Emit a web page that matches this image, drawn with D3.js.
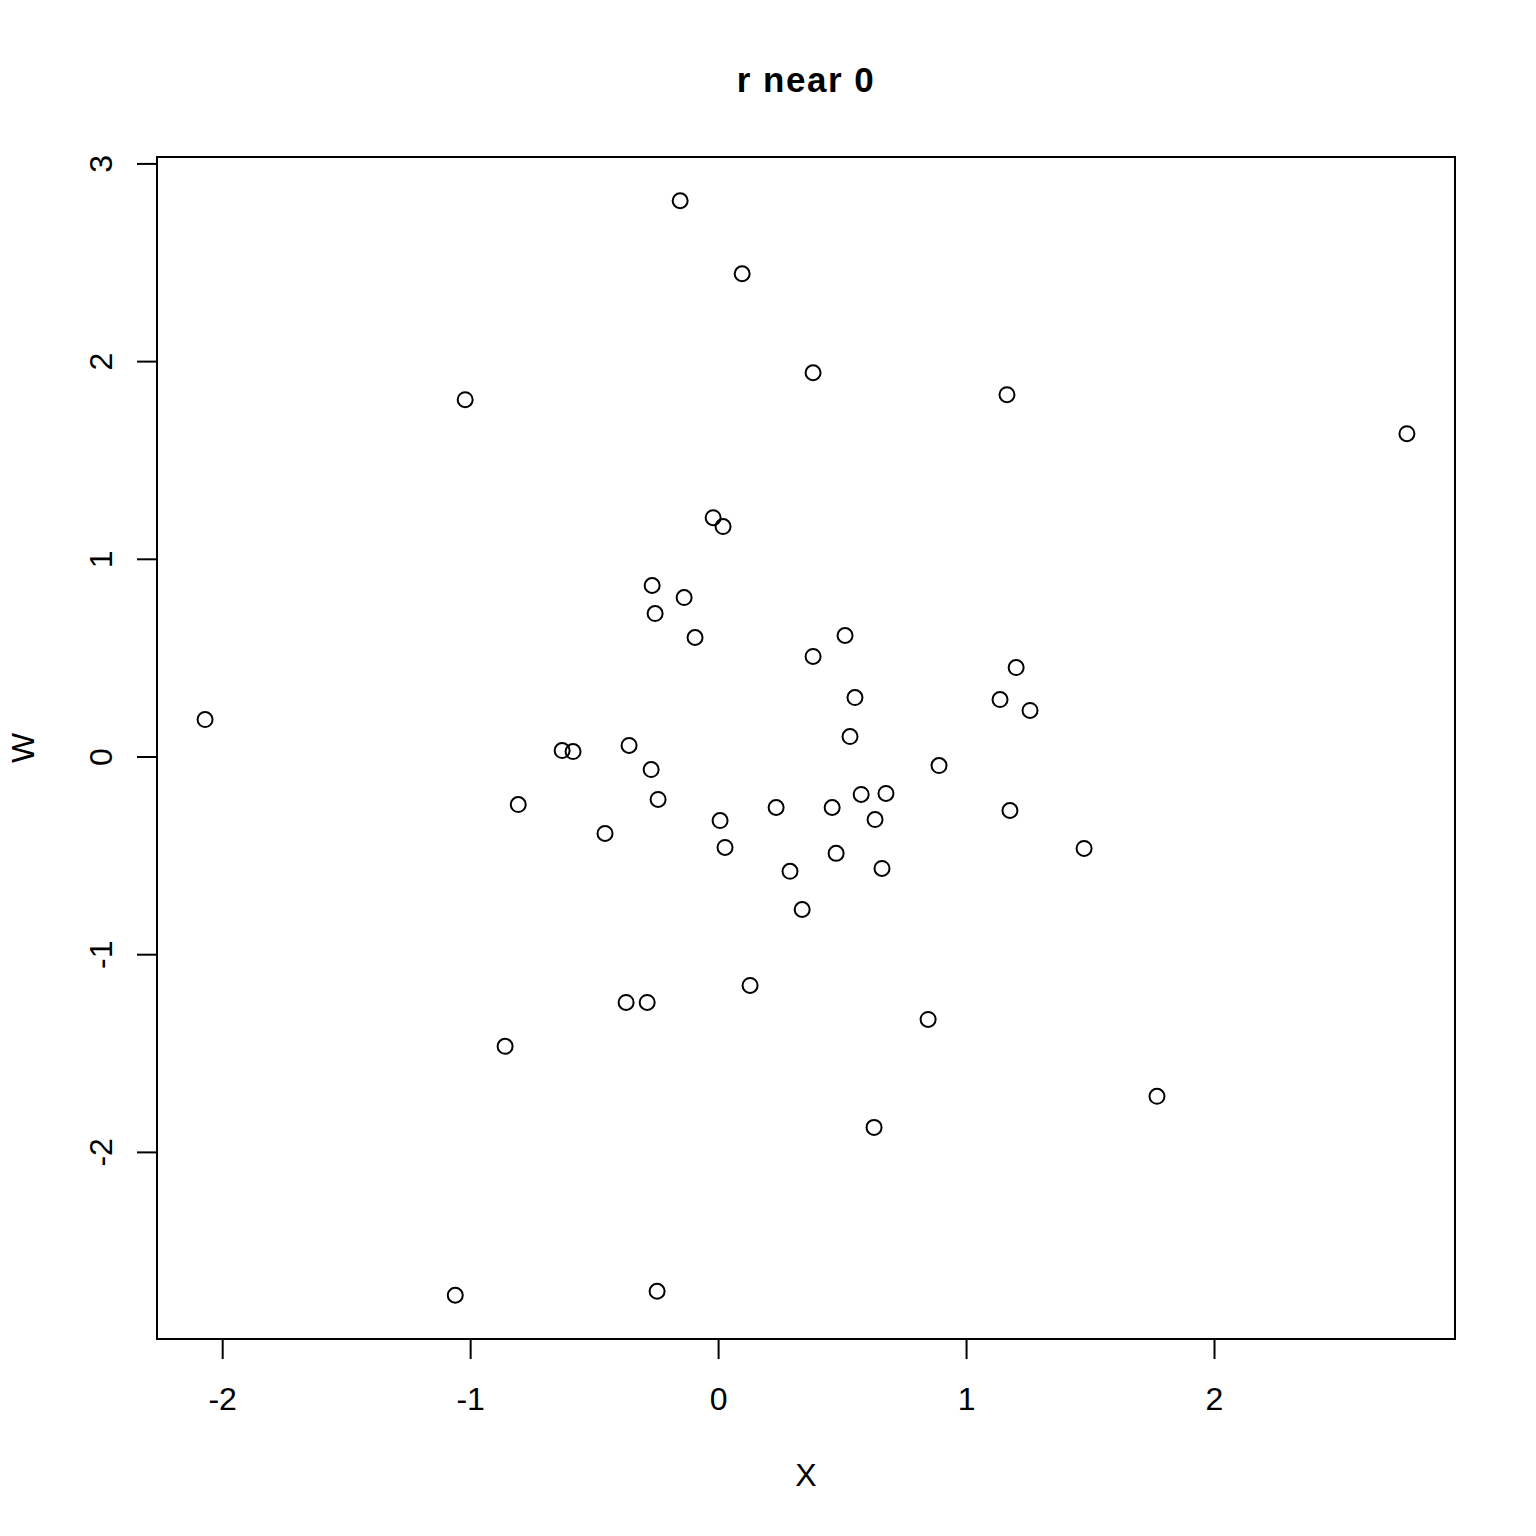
<!DOCTYPE html>
<html>
<head>
<meta charset="utf-8">
<script src="https://cdn.jsdelivr.net/npm/d3@7"></script>
<style>
  body { margin: 0; background: #fff; }
  text { font-family: "Liberation Sans", Arial, sans-serif; fill: #000; }
</style>
</head>
<body>
<div id="scatter"></div>
<script>
// values
const xVals = [-0.153, 0.097, 0.383, 1.165, -1.020, 2.778, -0.020, 0.020, -0.266, -0.137,
  -0.254, -0.093, 0.512, 0.383, 1.202, 0.552, 1.137, 1.258, -2.069, 0.532,
  -0.359, -0.629, -0.585, 0.891, -0.270, 0.577, 0.677, -0.806, -0.242, 0.234,
  0.460, 1.177, 0.008, 0.633, -0.456, 0.028, 1.476, 0.476, 0.661, 0.290,
  0.339, 0.129, -0.371, -0.286, 0.847, -0.859, 1.770, 0.629, -0.246, -1.060];
const wVals = [2.811, 2.442, 1.941, 1.830, 1.805, 1.633, 1.208, 1.163, 0.865, 0.804,
  0.723, 0.602, 0.612, 0.506, 0.450, 0.298, 0.288, 0.233, 0.187, 0.101,
  0.056, 0.030, 0.025, -0.046, -0.066, -0.192, -0.187, -0.243, -0.217, -0.258,
  -0.258, -0.273, -0.324, -0.319, -0.389, -0.460, -0.465, -0.490, -0.566, -0.581,
  -0.774, -1.158, -1.244, -1.244, -1.330, -1.466, -1.719, -1.876, -2.705, -2.725];
const xTicks = [-2, -1, 0, 1, 2];
const wTicks = [-2, -1, 0, 1, 2, 3];

const data = xVals.map((x, i) => ({ x: x, w: wVals[i] }));

const W = 1536, H = 1536;
const margin = { top: 157, right: 81, bottom: 197, left: 157 };
const width = W - margin.left - margin.right;
const height = H - margin.top - margin.bottom;

// R prints a plain hyphen for negatives
const fmt = d => String(d);

const svg = d3.select("#scatter")
    .append("svg")
    .attr("width", W)
    .attr("height", H);

const g = svg.append("g")
    .attr("transform", `translate(${margin.left},${margin.top})`);

// R-style 4% padding on each side
function padded(ext) {
  const d = (ext[1] - ext[0]) * 0.04;
  return [ext[0] - d, ext[1] + d];
}

const x = d3.scaleLinear()
    .domain(padded(d3.extent(xVals)))
    .range([0, width]);

const y = d3.scaleLinear()
    .domain(padded(d3.extent(wVals)))
    .range([height, 0]);

// box
g.append("rect")
    .attr("width", width)
    .attr("height", height)
    .attr("fill", "none")
    .attr("stroke", "#000")
    .attr("stroke-width", 2);

// x axis
const xAxis = g.append("g")
    .attr("transform", `translate(0,${height})`)
    .call(d3.axisBottom(x).tickValues(xTicks).tickSize(20).tickFormat(fmt));
xAxis.select(".domain")
    .attr("d", `M${x(xTicks[0])},0H${x(xTicks[xTicks.length - 1])}`)
    .attr("stroke-width", 2);
xAxis.selectAll(".tick line").attr("stroke-width", 2);
xAxis.selectAll("text")
    .attr("y", 71)
    .attr("dy", null)
    .attr("font-size", 32)
    .attr("font-family", "Liberation Sans, Arial, sans-serif");

// y axis, labels rotated like R's default
const yAxis = g.append("g")
    .call(d3.axisLeft(y).tickValues(wTicks).tickSize(20).tickFormat(fmt));
yAxis.select(".domain")
    .attr("d", `M0,${y(wTicks[0])}V${y(wTicks[wTicks.length - 1])}`)
    .attr("stroke-width", 2);
yAxis.selectAll(".tick line").attr("stroke-width", 2);
yAxis.selectAll("text")
    .attr("x", null)
    .attr("dy", null)
    .attr("transform", "translate(-45,0) rotate(-90)")
    .attr("text-anchor", "middle")
    .attr("font-size", 32)
    .attr("font-family", "Liberation Sans, Arial, sans-serif");

// points
g.selectAll(".dot")
    .data(data)
    .enter().append("circle")
    .attr("class", "dot")
    .attr("cx", d => x(d.x))
    .attr("cy", d => y(d.w))
    .attr("r", 7.5)
    .attr("fill", "none")
    .attr("stroke", "#000")
    .attr("stroke-width", 2);

// title and axis labels
svg.append("text")
    .attr("x", margin.left + width / 2)
    .attr("y", 92)
    .attr("text-anchor", "middle")
    .attr("font-size", 35)
    .attr("letter-spacing", 1.5)
    .attr("font-weight", "bold")
    .text("r near 0");

svg.append("text")
    .attr("x", margin.left + width / 2)
    .attr("y", 1486)
    .attr("text-anchor", "middle")
    .attr("font-size", 32)
    .text("X");

svg.append("text")
    .attr("transform", `translate(34,${margin.top + height / 2}) rotate(-90)`)
    .attr("text-anchor", "middle")
    .attr("font-size", 32)
    .text("W");
</script>
</body>
</html>
